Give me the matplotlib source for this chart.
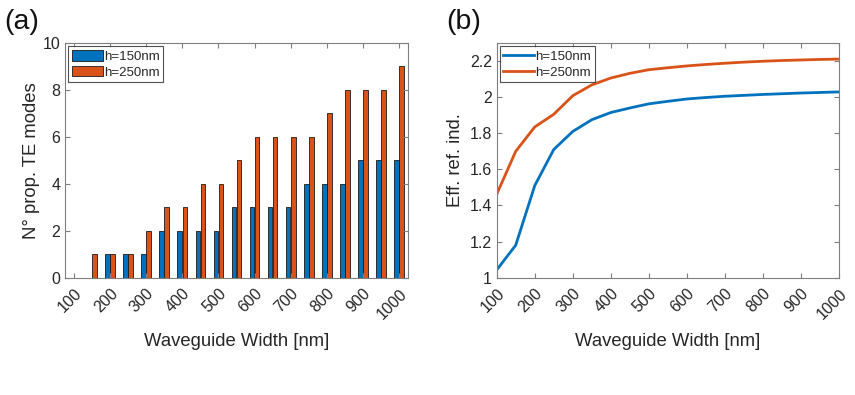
import matplotlib
matplotlib.use("Agg")
import matplotlib.pyplot as plt
import numpy as np

plt.rcParams['font.family'] = ['Liberation Sans', 'DejaVu Sans']

widths = [100, 150, 200, 250, 300, 350, 400, 450, 500, 550, 600, 650, 700,
          750, 800, 850, 900, 950, 1000]
modes_150 = [0, 0, 1, 1, 1, 2, 2, 2, 2, 3, 3, 3, 3, 4, 4, 4, 5, 5, 5]
modes_250 = [0, 1, 1, 1, 2, 3, 3, 4, 4, 5, 6, 6, 6, 6, 7, 8, 8, 8, 9]
neff_150 = [1.043, 1.18, 1.51, 1.71, 1.81, 1.875, 1.915, 1.94, 1.963, 1.977,
            1.99, 1.998, 2.005, 2.01, 2.015, 2.019, 2.023, 2.026, 2.029]
neff_250 = [1.462, 1.70, 1.835, 1.905, 2.008, 2.068, 2.106, 2.132, 2.152, 2.163,
            2.173, 2.181, 2.188, 2.194, 2.199, 2.203, 2.206, 2.209, 2.211]
labels = ['h=150nm', 'h=250nm']

blue = '#0072BD'
orange = '#D95319'
txt = '#262626'
axc = '#7f7f7f'

fig = plt.figure(figsize=(8.55, 3.95), dpi=100)
axA = fig.add_axes([65/855, 1-277.7/395, (408-65)/855, (277.7-43)/395])
axB = fig.add_axes([496.7/855, 1-277.7/395, (839-496.7)/855, (277.7-43)/395])

def style(ax):
    for s in ax.spines.values():
        s.set_color(axc)
        s.set_linewidth(0.8)
    ax.tick_params(direction='in', top=True, right=True, colors=axc,
                   labelcolor=txt, labelsize=11.5, length=3.5, width=0.8)
    ax.tick_params(axis='x', pad=6)

def legend(ax):
    leg = ax.legend(loc='upper left', fontsize=9.5, frameon=True, fancybox=False,
                    edgecolor=txt, handlelength=2.35, handleheight=0.9,
                    handletextpad=0.1, borderpad=0.25, labelspacing=0.22,
                    borderaxespad=0.25)
    leg.get_frame().set_linewidth(0.8)
    for t in leg.get_texts():
        t.set_color(txt)
    return leg

# (a) bar chart
idx = np.arange(len(widths))
off = 0.14
bw = 0.26
axA.bar(idx - off, modes_150, bw, color=blue, edgecolor='#1a1a1a', linewidth=0.6, label=labels[0])
axA.bar(idx + off, modes_250, bw, color=orange, edgecolor='#1a1a1a', linewidth=0.6, label=labels[1])
axA.set_xlim(-0.5, len(widths) - 0.5)
axA.set_ylim(0, 10)
axA.set_xticks(idx[::2])
axA.set_xticklabels([str(w) for w in widths[::2]], rotation=45, ha='right',
                    rotation_mode='anchor')
axA.set_yticks([0, 2, 4, 6, 8, 10])
style(axA)
axA.set_xlabel('Waveguide Width [nm]', fontsize=13.3, color=txt, labelpad=8)
axA.set_ylabel('N° prop. TE modes', fontsize=13.3, color=txt, labelpad=2)
legend(axA)

# (b) line chart
axB.plot(widths, neff_150, color=blue, lw=2.0, label=labels[0])
axB.plot(widths, neff_250, color=orange, lw=2.0, label=labels[1])
axB.set_xlim(100, 1000)
axB.set_ylim(1, 2.3)
axB.set_xticks(range(100, 1001, 100))
axB.set_xticklabels([str(v) for v in range(100, 1001, 100)], rotation=45,
                    ha='right', rotation_mode='anchor')
axB.set_yticks([1, 1.2, 1.4, 1.6, 1.8, 2, 2.2])
axB.set_yticklabels(['1', '1.2', '1.4', '1.6', '1.8', '2', '2.2'])
style(axB)
axB.set_xlabel('Waveguide Width [nm]', fontsize=13.3, color=txt, labelpad=8)
axB.set_ylabel('Eff. ref. ind.', fontsize=13.3, color=txt, labelpad=4)
legend(axB)

fig.text(4/855, 1-22/395, '(a)', fontsize=20.5, color='#111111', va='center', ha='left')
fig.text(446/855, 1-22/395, '(b)', fontsize=20.5, color='#111111', va='center', ha='left')

fig.savefig('out.png', dpi=100)
